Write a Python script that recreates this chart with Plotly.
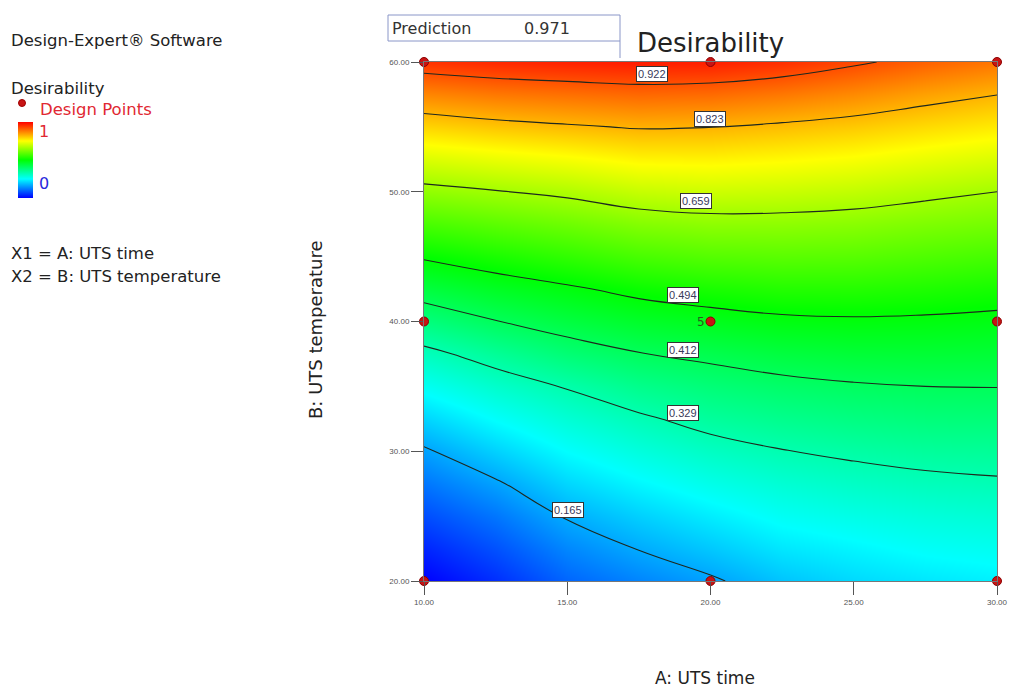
import numpy as np
import plotly.graph_objects as go

# ---------------- data ----------------
x_vals = [10, 12.5, 15, 17.5, 20, 22.5, 25, 27.5, 30]          # A: UTS time
y_vals = [20, 22.5, 25, 27.5, 30, 32.5, 35, 37.5, 40, 42.5,
          45, 47.5, 50, 52.5, 55, 57.5, 60]                    # B: UTS temperature

# desirability, one list per x column (bottom -> top)
d_x10   = [0.000, 0.035, 0.075, 0.115, 0.158, 0.208, 0.262, 0.314, 0.376, 0.438, 0.500, 0.570, 0.641, 0.715, 0.791, 0.869, 0.950]
d_x12_5 = [0.045, 0.079, 0.116, 0.158, 0.206, 0.253, 0.301, 0.352, 0.410, 0.465, 0.524, 0.589, 0.656, 0.730, 0.806, 0.883, 0.961]
d_x15   = [0.099, 0.132, 0.170, 0.210, 0.251, 0.291, 0.333, 0.386, 0.436, 0.486, 0.546, 0.607, 0.671, 0.743, 0.817, 0.891, 0.968]
d_x17_5 = [0.130, 0.167, 0.204, 0.243, 0.283, 0.321, 0.364, 0.410, 0.458, 0.509, 0.569, 0.629, 0.693, 0.760, 0.827, 0.899, 0.973]
d_x20   = [0.158, 0.196, 0.233, 0.271, 0.309, 0.347, 0.384, 0.424, 0.471, 0.524, 0.582, 0.639, 0.700, 0.762, 0.824, 0.896, 0.970]
d_x22_5 = [0.192, 0.226, 0.260, 0.292, 0.327, 0.362, 0.398, 0.438, 0.483, 0.534, 0.587, 0.639, 0.696, 0.755, 0.814, 0.883, 0.955]
d_x25   = [0.213, 0.241, 0.274, 0.306, 0.339, 0.373, 0.407, 0.446, 0.487, 0.535, 0.585, 0.634, 0.688, 0.745, 0.802, 0.865, 0.930]
d_x27_5 = [0.226, 0.256, 0.285, 0.316, 0.348, 0.380, 0.412, 0.448, 0.485, 0.529, 0.576, 0.623, 0.673, 0.729, 0.785, 0.843, 0.905]
d_x30   = [0.236, 0.264, 0.292, 0.322, 0.352, 0.383, 0.413, 0.447, 0.480, 0.521, 0.567, 0.614, 0.659, 0.714, 0.769, 0.824, 0.884]

contour_levels = [0.165, 0.329, 0.412, 0.494, 0.659, 0.823, 0.922]
level_labels = ["0.165", "0.329", "0.412", "0.494", "0.659", "0.823", "0.922"]

design_x = [10, 20, 30, 10, 20, 30, 10, 20, 30]
design_y = [20, 20, 20, 40, 40, 40, 60, 60, 60]
center_reps = "5"
prediction = "0.971"

x_ticks = [10, 15, 20, 25, 30]
y_ticks = [20, 30, 40, 50, 60]

# ---------------- build ----------------
z = np.array([d_x10, d_x12_5, d_x15, d_x17_5, d_x20, d_x22_5, d_x25, d_x27_5, d_x30]).T

L, R, T, B = 424, 16, 62, 110
W, H = 1013, 691
PW, PH = W - L - R, H - T - B


def px_x(p):
    return (p - L) / PW


def px_y(p):
    return (H - B - p) / PH


cscale = [[0.0, "rgb(0,0,255)"], [0.25, "rgb(0,255,255)"], [0.5, "rgb(0,255,0)"],
          [0.75, "rgb(255,255,0)"], [1.0, "rgb(255,0,0)"]]

fig = go.Figure()
fig.add_trace(go.Contour(
    x=x_vals, y=y_vals, z=z, colorscale=cscale, zmin=0, zmax=1,
    contours=dict(coloring="heatmap", start=0, end=1, size=0.1, showlines=False),
    line=dict(width=0), hoverinfo="skip",
    colorbar=dict(x=px_x(18), xanchor="left", y=px_y(122), yanchor="top",
                  len=76, lenmode="pixels", thickness=15, thicknessmode="pixels",
                  outlinewidth=0, showticklabels=False, ticks="", xpad=0, ypad=0),
))
for lv in contour_levels:
    fig.add_trace(go.Contour(
        x=x_vals, y=y_vals, z=z, showscale=False, hoverinfo="skip",
        contours=dict(coloring="none", start=lv, end=lv, size=1),
        line=dict(color="rgb(30,40,30)", width=1.1, smoothing=1.3),
    ))

fig.add_trace(go.Scatter(
    x=design_x, y=design_y, mode="markers",
    marker=dict(color="rgb(200,20,20)", size=9, line=dict(color="rgb(140,0,0)", width=1)),
    cliponaxis=False, showlegend=False, hoverinfo="skip",
))

font = "DejaVu Sans, Verdana, sans-serif"
tfont = "Liberation Sans, Arial, sans-serif"
ann = []

# contour labels
label_pos = [(15.03, 25.45), (19.04, 32.95), (19.04, 37.8), (19.04, 42.05),
             (19.5, 49.3), (19.98, 55.6), (17.96, 59.1)]
for (lx, ly), txt in zip(label_pos, level_labels):
    ann.append(dict(x=lx, y=ly, xref="x", yref="y", text=txt, showarrow=False,
                    xanchor="center", yanchor="middle",
                    font=dict(family=tfont, size=11, color="#3a3a5a"),
                    bgcolor="white", bordercolor="#333", borderwidth=1, borderpad=1))

# replicate count next to centre point
ann.append(dict(x=20, y=40, xref="x", yref="y", text=center_reps, showarrow=False,
                xanchor="right", yanchor="middle", xshift=-4,
                font=dict(family=font, size=12, color="#2e5a1a")))


def paper_text(txt, x, y, size, color, xanchor="left", angle=0):
    return dict(x=px_x(x), y=px_y(y), xref="paper", yref="paper", text=txt,
                xanchor=xanchor, yanchor="middle", showarrow=False, textangle=angle,
                font=dict(family=font, size=size, color=color))


ann.append(paper_text("Desirability", 710, 43, 26, "#222", "center"))
ann.append(paper_text("A: UTS time", 705, 678, 17, "#222", "center"))
ann.append(paper_text("B: UTS temperature", 315, 330, 18, "#222", "center", -90))

ann.append(paper_text("Design-Expert® Software", 9, 40, 16.5, "#222"))
ann.append(paper_text("Desirability", 9, 88, 16.5, "#222"))
ann.append(paper_text("X1 = A: UTS time", 9, 253, 16.5, "#222"))
ann.append(paper_text("X2 = B: UTS temperature", 9, 276, 16.5, "#222"))
ann.append(paper_text("Design Points", 38, 110, 16.5, "rgb(225,40,50)"))
ann.append(paper_text("1", 37, 131, 16, "rgb(225,40,50)"))
ann.append(paper_text("0", 37, 183, 16, "rgb(40,40,220)"))
ann.append(paper_text("Prediction", 390, 28, 16, "#333"))
ann.append(paper_text(prediction, 522, 28, 16, "#333"))

shapes = [
    dict(type="rect", xref="paper", yref="paper", x0=px_x(388), x1=px_x(620),
         y0=px_y(41), y1=px_y(15), line=dict(color="#8a96c8", width=1)),
    dict(type="line", xref="paper", yref="paper", x0=px_x(620), x1=px_x(620),
         y0=px_y(58), y1=px_y(41), line=dict(color="#8a96c8", width=1)),
    dict(type="circle", xref="paper", yref="paper", x0=px_x(18.5), x1=px_x(25.5),
         y0=px_y(106.5), y1=px_y(99.5), fillcolor="rgb(200,20,20)",
         line=dict(color="rgb(160,0,0)", width=1)),
]

fig.update_layout(
    width=W, height=H, margin=dict(l=L, r=R, t=T, b=B, autoexpand=False),
    paper_bgcolor="white", plot_bgcolor="white", showlegend=False,
    font=dict(family=tfont),
    xaxis=dict(range=[10, 30], tickvals=x_ticks, tickformat=".2f", ticks="outside",
               ticklen=13, tickcolor="#555", tickwidth=1, showgrid=False, zeroline=False,
               showline=True, linecolor="#777", linewidth=1, mirror=True,
               tickfont=dict(family=tfont, size=8, color="#555")),
    yaxis=dict(range=[20, 60], tickvals=y_ticks, tickformat=".2f", ticks="outside",
               ticklen=12, tickcolor="#555", tickwidth=1, showgrid=False, zeroline=False,
               showline=True, linecolor="#777", linewidth=1, mirror=True,
               tickfont=dict(family=tfont, size=8, color="#555")),
    annotations=ann, shapes=shapes,
)

fig.write_html("out.html")
